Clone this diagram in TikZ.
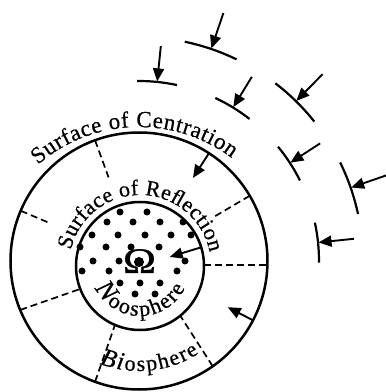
\documentclass[tikz,border=0pt]{standalone}
\usepackage{fontspec}
\setmainfont{Liberation Serif}[FakeBold=0.6]
\usetikzlibrary{arrows.meta,decorations.text}
\newcommand\fsCen{\fontsize{23}{26}\selectfont}
\newcommand\fsRef{\fontsize{22}{26}\selectfont}
\newcommand\fsN{\fontsize{27}{28}\selectfont\itshape}
\newcommand\fsNup{\fontsize{22}{26}\selectfont\upshape}
\newcommand\fsBi{\fontsize{25}{26}\selectfont\itshape}
\newcommand\fsUp{\fontsize{22}{24}\selectfont\upshape}
\begin{document}
\begin{tikzpicture}[x=1pt,y=1pt,
  ring/.style={line width=2.5pt},
  dsh/.style={line width=1.7pt, dash pattern=on 7pt off 4pt},
  arr/.style={line width=1.9pt, -{Triangle[length=13pt,width=11pt]}},
  bar/.style={line width=2.2pt},
  dot/.style={fill=black}]
\useasboundingbox (0,0) rectangle (386,392);
\coordinate (C) at (139,131);
\coordinate (I) at (140,126);
% circles
\draw[ring] (C) circle[radius=128.5pt];
\draw[ring] (I) circle[radius=64pt];
% dashed radial lines
\draw[dsh] ([shift={(C)}]110:128.5pt) -- ([shift={(C)}]110:89pt);
\draw[dsh] ([shift={(C)}]157:128.5pt) -- ([shift={(C)}]157:97pt);
\draw[dsh] ([shift={(C)}]30.5:128.5pt) -- ([shift={(C)}]30.5:88pt);
\draw[dsh] (204,127) -- (267.4,127);
\draw[dsh] ([shift={(C)}]202.4:128.5pt) -- ([shift={(I)}]201:64pt);
\draw[dsh] ([shift={(C)}]250:128.5pt) -- ([shift={(I)}]247:64pt);
\draw[dsh] ([shift={(C)}]305:128.5pt) -- ([shift={(I)}]309:64pt);
% inner arrows
\draw[arr] ([shift={(C)}]57:128.5pt) -- ([shift={(C)}]57:99pt);
\draw[arr] ([shift={(I)}]17:64pt) -- ([shift={(I)}]17:31pt);
\draw[arr] ([shift={(C)}]-27.5:128.5pt) -- ([shift={(C)}]-27.5:100pt);
% barriers, inner ring
\foreach \a in {84.2,58.5,33,5.9}{
  \draw[bar] ([shift={(C)}]\a-6.4:180pt) arc[start angle=\a-6.4, end angle=\a+6.4, radius=180pt];
  \draw[arr] ([shift={(C)}]\a:216pt) -- ([shift={(C)}]\a:180.5pt);
}
% barriers, outer ring
\foreach \a in {71.2,45.5,19.1}{
  \draw[bar] ([shift={(C)}]\a-7:224pt) arc[start angle=\a-7, end angle=\a+7, radius=224pt];
  \draw[arr] ([shift={(C)}]\a:262pt) -- ([shift={(C)}]\a:224.5pt);
}
% noosphere dots
\foreach \x in {120,147} \fill[dot] (\x,180) circle[radius=3.5pt];
\foreach \x in {107,133,160,183} \fill[dot] (\x,170) circle[radius=3.5pt];
\foreach \x in {92,118,145,171,191} \fill[dot] (\x,157) circle[radius=3.5pt];
\foreach \x in {80,106,131,159} \fill[dot] (\x,145) circle[radius=3.5pt];
\foreach \x in {93,119,185} \fill[dot] (\x,131) circle[radius=3.5pt];
\foreach \x in {82,109,177} \fill[dot] (\x,121) circle[radius=3.5pt];
\foreach \x in {120,140,160} \fill[dot] (\x,109) circle[radius=3.5pt];
\foreach \x in {135,155} \fill[dot] (\x,98) circle[radius=3.5pt];
\fill[dot] (139,130) circle[radius=5pt];
\node[anchor=base, inner sep=0pt, font=\fontsize{36}{36}\selectfont] (omega) at (139.5,119) {\scalebox{1.25}[1]{Ω}};
% curved labels
\path[decorate, decoration={text along path, text align=fit to path,
   text={|\fsCen|Surface of Centration}}]
  ([shift={(139,111)}]131:154pt) arc[start angle=131, end angle=53, radius=154pt];
\path[decorate, decoration={text along path, text align=fit to path,
   text={|\fsRef|Surface of Reﬂection}}]
  ([shift={(I)}]167:71pt) arc[start angle=167, end angle=11, radius=71pt];
\path[decorate, decoration={text along path, text align=fit to path,
   text={|\fsN|N|\fsNup|oosphere}}]
  ([shift={(I)}]206:50pt) arc[start angle=206, end angle=334, radius=50pt];
\path[decorate, decoration={text along path, text align=fit to path,
   text={|\fsBi|Bi|\fsUp|osphere}}]
  ([shift={(C)}]249:110pt) arc[start angle=249, end angle=303, radius=110pt];
\end{tikzpicture}
\end{document}
